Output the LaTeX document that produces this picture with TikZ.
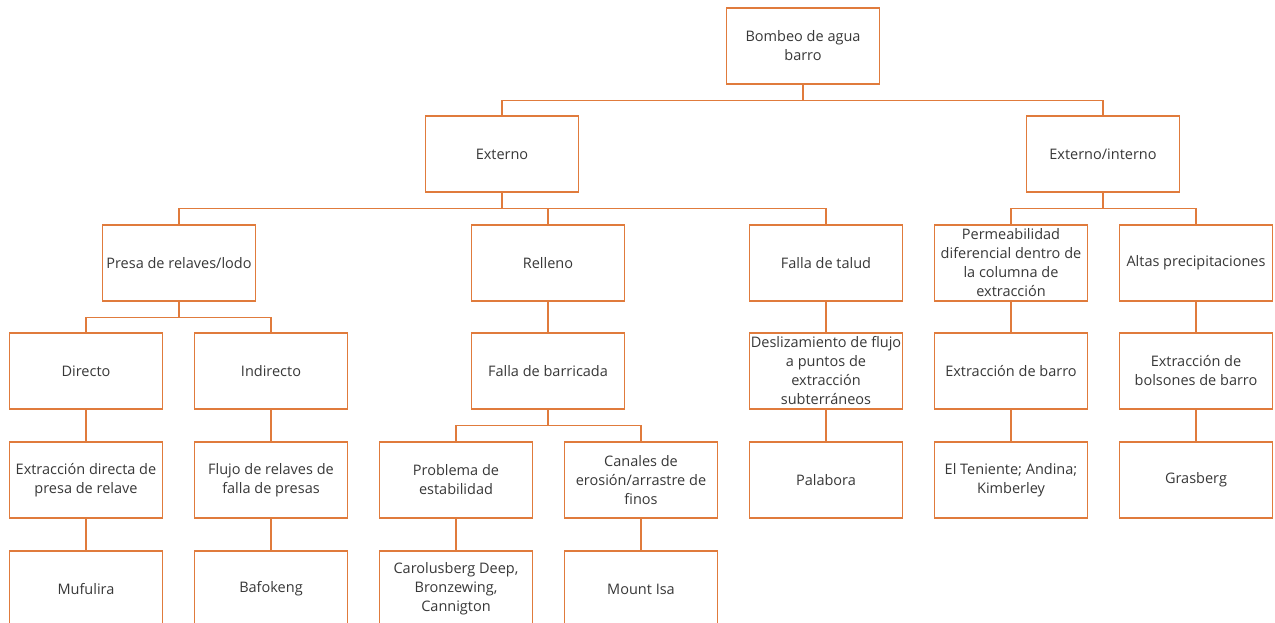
\documentclass[tikz,border=0pt]{standalone}
\usepackage{fontspec}
\setmainfont{Open Sans}
\usepackage{xcolor}
\usepackage{tikz}
\definecolor{frame}{HTML}{E07B3C}
\definecolor{ink}{HTML}{383838}
\tikzset{
  % node options
  box/.style={rectangle,draw=frame,line width=1.3pt,fill=white,minimum width=153pt,minimum height=76pt,
    align=center,inner sep=0pt,text=ink,
    font=\fontsize{14.5}{19}\selectfont},
  % path options
  link/.style={draw=frame,line width=1.3pt},
}

\begin{document}
\begin{tikzpicture}[x=1pt,y=-1pt]
    \useasboundingbox (0,0) rectangle (1275,623);
    % level 1
    \node[box] (bombeo) at (803,46) {Bombeo de agua\\barro};
    % level 2
    \node[box] (externo) at (502,154) {Externo};
    \node[box] (extint) at (1103,154) {Externo/interno};
    % level 3
    \node[box] (presa) at (179,263) {Presa de relaves/lodo};
    \node[box] (relleno) at (548,263) {Relleno};
    \node[box] (talud) at (826,263) {Falla de talud};
    \node[box] (permea) at (1011,263) {Permeabilidad\\diferencial dentro de\\la columna de\\extracción};
    \node[box] (altas) at (1196,263) {Altas precipitaciones};
    % level 4
    \node[box] (directo) at (86,371) {Directo};
    \node[box] (indirecto) at (271,371) {Indirecto};
    \node[box] (barricada) at (548,371) {Falla de barricada};
    \node[box] (deslizam) at (826,371) {Deslizamiento de flujo\\a puntos de\\extracción\\subterráneos};
    \node[box] (extbarro) at (1011,371) {Extracción de barro};
    \node[box] (bolsones) at (1196,371) {Extracción de\\bolsones de barro};
    % level 5
    \node[box] (extdir) at (86,480) {Extracción directa de\\presa de relave};
    \node[box] (flujo) at (271,480) {Flujo de relaves de\\falla de presas};
    \node[box] (estab) at (456,480) {Problema de\\estabilidad};
    \node[box] (canales) at (641,480) {Canales de\\erosión/arrastre de\\finos};
    \node[box] (palabora) at (826,480) {Palabora};
    \node[box] (teniente) at (1011,480) {El Teniente; Andina;\\Kimberley};
    \node[box] (grasberg) at (1196,480) {Grasberg};
    % level 6
    \node[box] (mufulira) at (86,589) {Mufulira};
    \node[box] (bafokeng) at (271,589) {Bafokeng};
    \node[box] (carolus) at (456,589) {Carolusberg Deep,\\Bronzewing,\\Cannigton};
    \node[box] (mountisa) at (641,589) {Mount Isa};
    % connectors
    \foreach \p/\c in {bombeo/externo,bombeo/extint,
        externo/presa,externo/relleno,externo/talud,
        extint/permea,extint/altas,
        presa/directo,presa/indirecto,relleno/barricada,talud/deslizam,
        permea/extbarro,altas/bolsones,
        directo/extdir,indirecto/flujo,barricada/estab,barricada/canales,
        deslizam/palabora,extbarro/teniente,bolsones/grasberg,
        extdir/mufulira,flujo/bafokeng,estab/carolus,canales/mountisa}
      \draw[link] (\p.south) -- ++(0,16) -| (\c.north);
\end{tikzpicture}
\end{document}
